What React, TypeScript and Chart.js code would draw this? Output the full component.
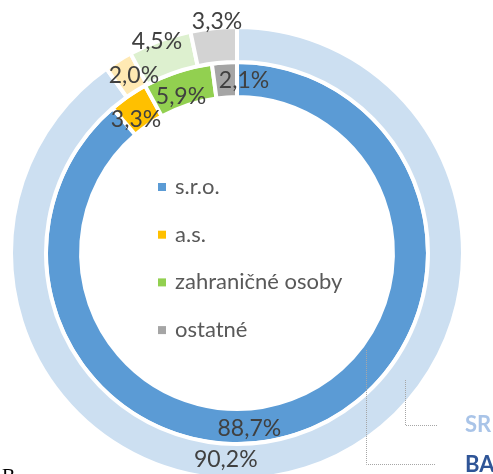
import React, { useEffect, useRef } from "react";
import { Chart, registerables } from "chart.js";

Chart.register(...registerables);

const categories = ["s.r.o.", "a.s.", "zahraničné osoby", "ostatné"];
const seriesNames = ["SR", "BA"];
const srValues = [90.2, 2.0, 4.5, 3.3];
const baValues = [88.7, 3.3, 5.9, 2.1];
const srColors = ["#CCDFF1", "#FFE9B3", "#DDF0CF", "#D3D3D3"];
const baColors = ["#5B9BD5", "#FFC000", "#92D050", "#A5A5A5"];

// label placement inside each arc: fraction along the arc, fraction across the ring
const srLabelAlong = [0.564, 0.73, 0.457, 0.587];
const srLabelAcross = [0.42, 0.43, 1.02, 1.21];
const baLabelAlong = [0.551, 0.318, 0.432, 1.307];
const baLabelAcross = [0.54, 0.35, 0.31, 0.49];

const labelAlong = [srLabelAlong, baLabelAlong];
const labelAcross = [srLabelAcross, baLabelAcross];

const FONT = "Lato, 'Open Sans', sans-serif";

const fmt = (v: number) => v.toFixed(1).replace(".", ",") + "%";

const arcLabels = {
  id: "arcLabels",
  afterDatasetsDraw(chart: any) {
    const ctx = chart.ctx;
    ctx.save();
    const size = 23;
    ctx.font = `${size}px ${FONT}`;
    ctx.fillStyle = "#404040";
    ctx.textAlign = "center";
    ctx.textBaseline = "alphabetic";
    chart.data.datasets.forEach((ds: any, di: number) => {
      const meta = chart.getDatasetMeta(di);
      meta.data.forEach((arc: any, i: number) => {
        const p = arc.getProps(["x", "y", "startAngle", "endAngle", "innerRadius", "outerRadius"], true);
        const a = p.startAngle + labelAlong[di][i] * (p.endAngle - p.startAngle);
        const r = p.innerRadius + labelAcross[di][i] * (p.outerRadius - p.innerRadius);
        ctx.fillText(fmt(ds.data[i]), p.x + r * Math.cos(a), p.y + r * Math.sin(a) + size * 0.36);
      });
    });
    ctx.restore();
  },
};

const centerLegend = {
  id: "centerLegend",
  afterDraw(chart: any) {
    const ctx = chart.ctx;
    const arc = chart.getDatasetMeta(1).data[0];
    const { x, y } = arc.getProps(["x", "y"], true);
    const colors = chart.data.datasets[1].backgroundColor;
    ctx.save();
    const size = 22;
    ctx.font = `${size}px ${FONT}`;
    ctx.textBaseline = "middle";
    ctx.textAlign = "left";
    chart.data.labels.forEach((lab: string, i: number) => {
      const yy = y - 66 + i * 47.7;
      ctx.fillStyle = colors[i];
      ctx.fillRect(x - 79, yy - 4, 8, 8);
      ctx.fillStyle = "#595959";
      ctx.fillText(lab, x - 62, yy);
    });
    ctx.restore();
  },
};

const seriesCallouts = {
  id: "seriesCallouts",
  afterDraw(chart: any) {
    const ctx = chart.ctx;
    const angle = (127 / 180) * Math.PI - Math.PI / 2;
    const specs = [
      { di: 0, across: 0.57, lineY: 172, lineX: 200, textX: 228, textY: 171.5, color: "#A9C4E8" },
      { di: 1, across: 0.17, lineY: 211, lineX: 198, textX: 228, textY: 211.5, color: "#2F5597" },
    ];
    ctx.save();
    specs.forEach((s) => {
      const arc = chart.getDatasetMeta(s.di).data[0];
      const p = arc.getProps(["x", "y", "innerRadius", "outerRadius"], true);
      const r = p.innerRadius + s.across * (p.outerRadius - p.innerRadius);
      const sx = Math.round(p.x + r * Math.cos(angle)) + 0.5;
      const sy = Math.round(p.y + r * Math.sin(angle));
      const ey = Math.round(p.y + s.lineY) + 0.5;
      const ex = Math.round(p.x + s.lineX);
      ctx.strokeStyle = "#A6A6A6";
      ctx.lineWidth = 1;
      ctx.setLineDash([1, 1]);
      ctx.beginPath();
      ctx.moveTo(sx, sy);
      ctx.lineTo(sx, ey);
      ctx.lineTo(ex, ey);
      ctx.stroke();
      ctx.setLineDash([]);
      const fs = 22;
      ctx.font = `bold ${fs}px ${FONT}`;
      ctx.fillStyle = s.color;
      ctx.textAlign = "left";
      ctx.textBaseline = "alphabetic";
      ctx.fillText(seriesNames[s.di], p.x + s.textX, p.y + s.textY + fs * 0.36);
    });
    ctx.restore();
  },
};

export default function App() {
  const ref = useRef<HTMLCanvasElement>(null);
  useEffect(() => {
    const chart = new Chart(ref.current as HTMLCanvasElement, {
      type: "doughnut",
      data: {
        labels: categories,
        datasets: [
          { label: seriesNames[0], data: srValues, backgroundColor: srColors, borderColor: "#FFFFFF", borderWidth: 4 },
          { label: seriesNames[1], data: baValues, backgroundColor: baColors, borderColor: "#FFFFFF", borderWidth: 4 },
        ],
      },
      options: {
        responsive: false,
        maintainAspectRatio: false,
        animation: false,
        cutout: "69%",
        layout: { padding: { left: 9, top: 25, right: 28, bottom: 0 } },
        plugins: { legend: { display: false }, tooltip: { enabled: false } },
      },
      plugins: [arcLabels, centerLegend, seriesCallouts],
    });
    return () => chart.destroy();
  }, []);
  return (
    <div style={{ position: "fixed", left: 0, top: 0, width: 493, height: 474, overflow: "hidden", background: "#FFFFFF" }}>
      <canvas ref={ref} width={493} height={481} style={{ position: "absolute", left: 0, top: 0, width: 493, height: 481 }} />
      <div style={{ position: "absolute", left: 2, top: 465, fontFamily: "'Liberation Serif', 'Times New Roman', serif", fontSize: 20, lineHeight: "23px", color: "#000" }}>B</div>
    </div>
  );
}
